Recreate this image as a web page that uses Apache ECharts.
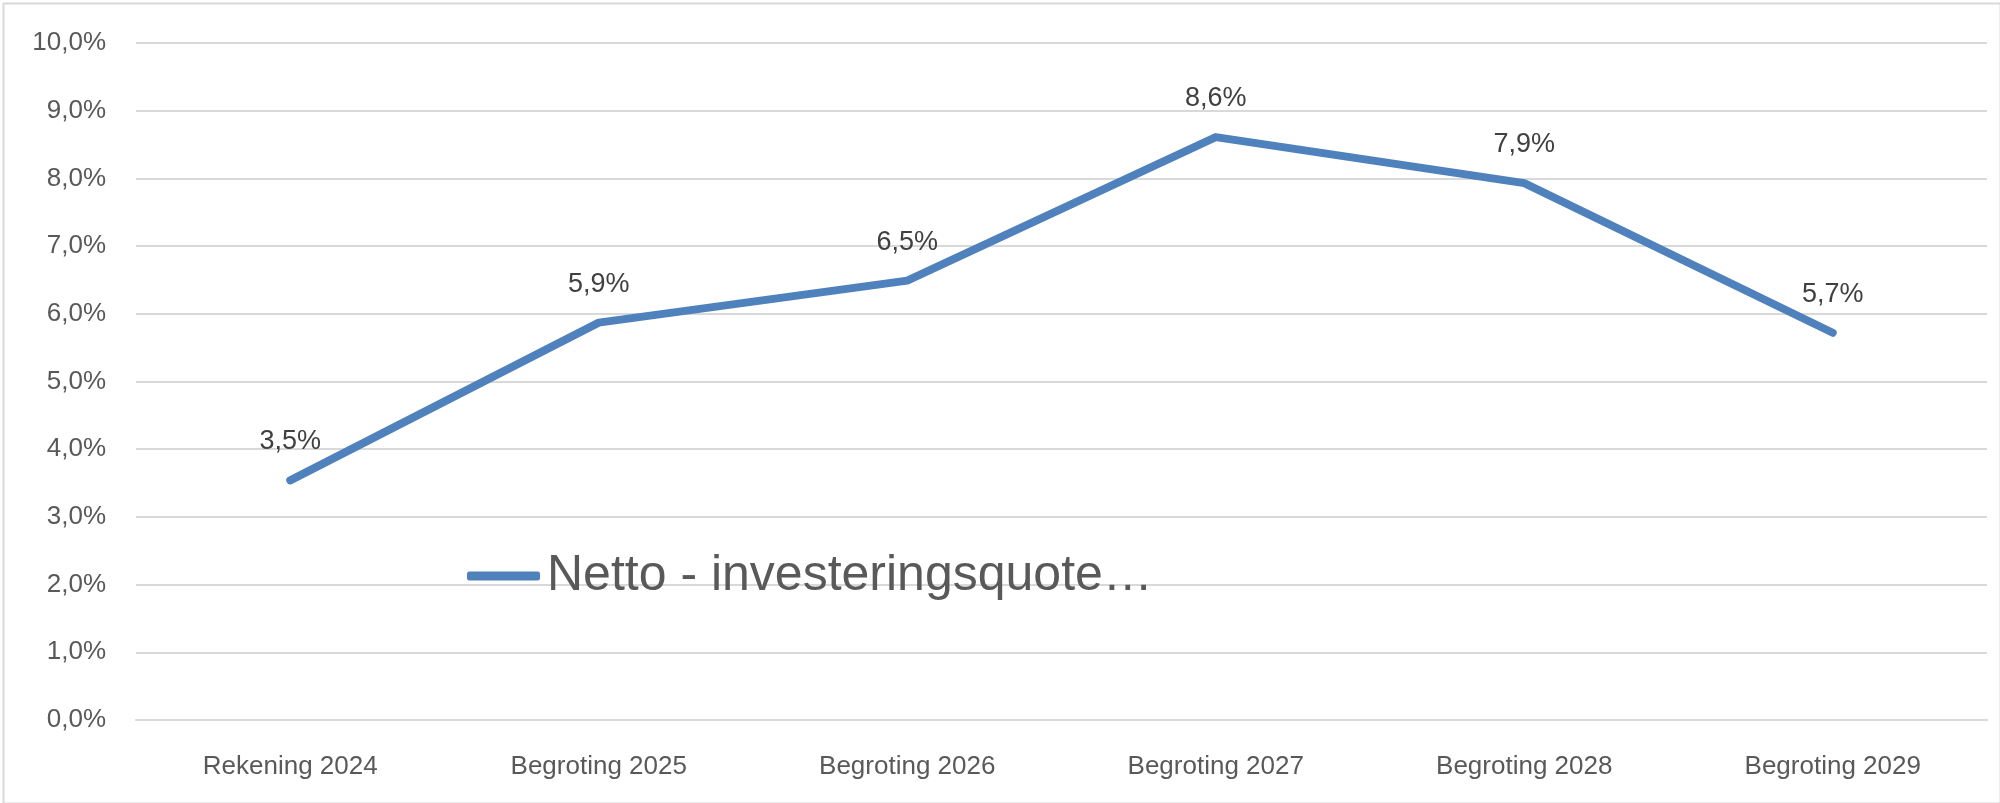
<!DOCTYPE html>
<html>
<head>
<meta charset="utf-8">
<script src="https://cdn.jsdelivr.net/npm/echarts@6/dist/echarts.min.js"></script>
<style>
html,body{margin:0;padding:0;background:#fff;}
#c{width:2000px;height:803px;}
</style>
</head>
<body>
<div id="c"></div>
<script>
const categories = ['Rekening 2024','Begroting 2025','Begroting 2026','Begroting 2027','Begroting 2028','Begroting 2029'];
const seriesName = 'Netto - investeringsquote…';
const values = [3.54, 5.87, 6.49, 8.61, 7.93, 5.72];
const yMin = 0, yMax = 10, yInterval = 1;

const fmt = v => v.toFixed(1).replace('.', ',') + '%';
const FONT = "'Liberation Sans', Arial, sans-serif";

const chart = echarts.init(document.getElementById('c'), null, {renderer:'canvas'});
chart.setOption({
  backgroundColor: '#fff',
  animation: false,
  graphic: [{
    type: 'rect', left: 1, top: 1, silent: true,
    shape: {x: 0, y: 0, width: 1997, height: 800},
    style: {fill: 'none', stroke: '#d9d9d9', lineWidth: 2}
  }],
  grid: {left: 136, right: 13, top: 43, bottom: 83, containLabel: false},
  legend: {
    data: [seriesName],
    left: 462, top: 546,
    itemWidth: 73, itemHeight: 9, itemGap: 10,
    icon: 'roundRect',
    itemStyle: {color: '#4F81BD'},
    textStyle: {fontFamily: FONT, fontSize: 50, color: '#595959', padding: [0,0,0,2]}
  },
  xAxis: {
    type: 'category', data: categories,
    axisLine: {show: true, lineStyle: {color: '#d9d9d9', width: 2}},
    axisTick: {show: false},
    axisLabel: {fontFamily: FONT, fontSize: 26, color: '#595959', margin: 34}
  },
  yAxis: {
    type: 'value', min: yMin, max: yMax, interval: yInterval,
    axisLine: {show: false}, axisTick: {show: false},
    splitLine: {lineStyle: {color: '#d9d9d9', width: 2}},
    axisLabel: {fontFamily: FONT, fontSize: 26, color: '#595959', margin: 30, formatter: v => fmt(v)}
  },
  series: [{
    name: seriesName, type: 'line', data: values,
    symbol: 'circle', symbolSize: 0.1, showSymbol: true, smooth: false,
    lineStyle: {color: '#4F81BD', width: 8, cap: 'round', join: 'round'},
    itemStyle: {color: '#4F81BD'},
    label: {show: true, position: 'top', distance: 25, fontFamily: FONT, fontSize: 27, color: '#404040',
      formatter: p => fmt(p.value)}
  }]
});
</script>
</body>
</html>
